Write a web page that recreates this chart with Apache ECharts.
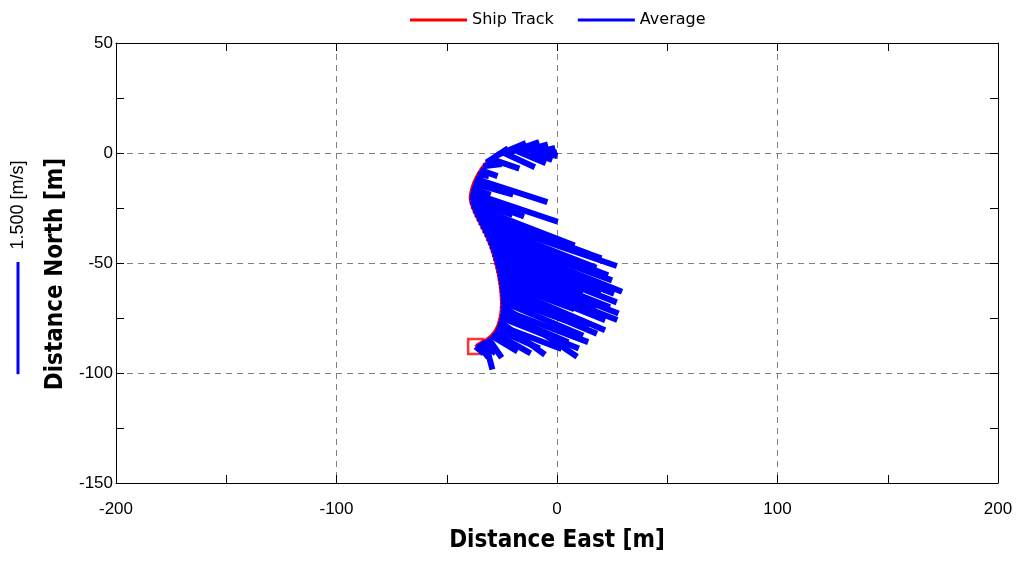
<html>
<head>
    <meta charset="utf-8">
    <title>Ship Track</title>
    <script src="https://cdn.jsdelivr.net/npm/echarts@6/dist/echarts.min.js"></script>
</head>
<body style="margin:0">
    <div id="main" style="width: 1021px;height:565px;"></div>
    <script type="text/javascript">
        // ship track, distance east / north [m]
        var trackE = [-3, -6, -9, -12, -15, -18, -21, -24, -27, -30,
            -32, -33.5, -34.8, -36, -37, -37.9, -38.6, -39.1, -39.4, -39.2,
            -38.6, -37.8, -37, -36.1, -35.2, -34.3, -33.4, -32.5, -31.7, -30.9,
            -30.2, -29.6, -29, -28.5, -28, -27.5, -27.1, -26.7, -26.4, -26.1,
            -25.8, -25.6, -25.4, -25.3, -25.2, -25.2, -25.3, -25.5, -25.8, -26.2,
            -26.8, -27.6, -28.6, -29.8, -31.2, -32.7, -34.3, -35.8, -36.9];
        var trackN = [-0.5, 0, 0.3, 0.6, 0.9, 0.8, 0.5, 0, -0.9, -2.7,
            -4.3, -6, -7.8, -9.8, -11.8, -13.8, -15.9, -18, -20, -22,
            -24, -26, -27.8, -29.6, -31.4, -33.2, -35, -36.8, -38.6, -40.4,
            -42.2, -44, -45.8, -47.6, -49.4, -51.2, -53, -54.8, -56.6, -58.4,
            -60.2, -62, -63.8, -65.6, -67.4, -69.2, -71, -72.8, -74.6, -76.4,
            -78.2, -80, -81.6, -83, -84.2, -85.2, -86, -86.9, -88];
        // average velocity at each track point [m/s]
        var avgE = [0.09, 0.18, 0.24, 0.29, 0.32, 0.38, 0.38, 0.41, 0.38, 0.38,
            0.29, 0.25, 0.23, 0.15, 0.96, 0.53, 0.25, 1.16, 0.72, 0.56,
            1.37, 1.55, 1.68, 1.86, 1.56, 1.69, 1.28, 1.69, 1.80, 1.35,
            1.65, 1.46, 1.65, 1.19, 1.53, 1.63, 1.33, 1.59, 1.42, 1.00,
            1.40, 1.19, 1.28, 0.86, 1.09, 1.01, 1.16, 0.90, 1.05, 0.61,
            0.85, 0.58, 0.49, 0.35, 0.18, 0.10, 0.19, 0.14, 0.11];
        var avgN = [0.03, -0.04, 0.06, -0.11, 0.09, -0.16, 0.13, -0.19, 0.16, -0.13,
            0.19, 0.03, -0.08, -0.02, -0.31, -0.15, -0.09, -0.39, -0.26, -0.18,
            -0.53, -0.59, -0.59, -0.64, -0.61, -0.66, -0.50, -0.62, -0.72, -0.52,
            -0.64, -0.56, -0.65, -0.45, -0.61, -0.64, -0.50, -0.62, -0.57, -0.37,
            -0.60, -0.47, -0.54, -0.31, -0.46, -0.69, -0.44, -0.39, -0.42, -0.45,
            -0.32, -0.26, -0.28, -0.21, -0.26, -0.39, -0.15, -0.18, -0.09];
        var vecScale = 34;      // metres drawn per m/s
        var scaleSpeed = 1.5;   // reference bar [m/s]

        var myChart = echarts.init(document.getElementById('main'));

        var trackData = trackE.map(function (e, i) { return [e, trackN[i]]; });
        var vecData = trackE.map(function (e, i) {
            return {
                coords: [[e, trackN[i]], [e + avgE[i] * vecScale, trackN[i] + avgN[i] * vecScale]]
            };
        });
        var last = trackE.length - 1;

        var labelFont = { color: '#000', fontSize: 17, fontFamily: 'Liberation Sans, Arial, sans-serif' };
        var titleFont = {
            color: '#000', fontSize: 24, fontWeight: 'bold',
            fontFamily: "'Liberation Sans Narrow', 'DejaVu Sans Condensed', sans-serif"
        };
        var dashed = { show: true, lineStyle: { color: '#808080', type: [6, 5], width: 1 } };

        function boxAxis(pos, min, max, interval) {
            return {
                type: 'value', position: pos, min: min, max: max, interval: interval,
                axisLine: { show: true, onZero: false, lineStyle: { color: '#000', width: 1 } },
                axisTick: { show: true, inside: true, length: 8, lineStyle: { color: '#000' } },
                minorTick: { show: true, splitNumber: 2, length: 8, lineStyle: { color: '#000' } },
                axisLabel: { show: false },
                splitLine: { show: false }
            };
        }

        var xBottom = boxAxis('bottom', -200, 200, 100);
        xBottom.axisLabel = Object.assign({ show: true, margin: 18 }, labelFont);
        xBottom.splitLine = dashed;
        xBottom.name = 'Distance East [m]';
        xBottom.nameLocation = 'middle';
        xBottom.nameGap = 46;
        xBottom.nameTextStyle = titleFont;

        var yLeft = boxAxis('left', -150, 50, 50);
        yLeft.axisLabel = Object.assign({ show: true, margin: 3 }, labelFont);
        yLeft.splitLine = dashed;
        yLeft.name = 'Distance North [m]';
        yLeft.nameLocation = 'middle';
        yLeft.nameGap = 46;
        yLeft.nameTextStyle = Object.assign({ padding: [0, 0, 0, -22] }, titleFont);

        option = {
            animation: false,
            grid: { left: 116, right: 23, top: 43, bottom: 82 },
            legend: {
                left: 405, top: 7,
                icon: 'rect', itemWidth: 57, itemHeight: 3, itemGap: 24,
                itemStyle: { borderWidth: 0 },
                textStyle: { color: '#000', fontSize: 16, fontFamily: 'DejaVu Sans, sans-serif' },
                data: ['Ship Track', 'Average']
            },
            xAxis: [xBottom, boxAxis('top', -200, 200, 100)],
            yAxis: [yLeft, boxAxis('right', -150, 50, 50)],
            series: [
                {
                    name: 'Ship Track', type: 'line', data: trackData,
                    symbol: 'none', color: '#ff0000',
                    lineStyle: { color: '#ff0000', width: 3 }, z: 2
                },
                {
                    name: 'end', type: 'scatter', data: [[trackE[last], trackN[last]]],
                    symbol: 'rect', symbolSize: 15,
                    itemStyle: { color: 'rgba(0,0,0,0)', borderColor: '#ff0000', borderWidth: 2.5 }, z: 3
                },
                {
                    name: 'Average', type: 'lines', coordinateSystem: 'cartesian2d',
                    data: vecData, color: '#0000ff',
                    lineStyle: { color: '#0000ff', width: 6, opacity: 1 }, z: 4
                }
            ]
        };
        myChart.setOption(option);

        // velocity reference bar on the left
        var p0 = myChart.convertToPixel({ gridIndex: 0 }, [0, 0]);
        var p1 = myChart.convertToPixel({ gridIndex: 0 }, [0, -scaleSpeed * vecScale]);
        var barLen = p1[1] - p0[1];
        myChart.setOption({
            graphic: [
                {
                    type: 'line', shape: { x1: 18, y1: 262, x2: 18, y2: 262 + barLen },
                    style: { stroke: '#0000ff', lineWidth: 3 }
                },
                {
                    type: 'text', x: 18, y: 205, rotation: Math.PI / 2,
                    style: {
                        text: scaleSpeed.toFixed(3) + ' [m/s]', fill: '#000', fontSize: 18,
                        fontFamily: 'Liberation Sans, Arial, sans-serif',
                        align: 'center', verticalAlign: 'middle'
                    }
                }
            ]
        });
    </script>
</body>
</html>
